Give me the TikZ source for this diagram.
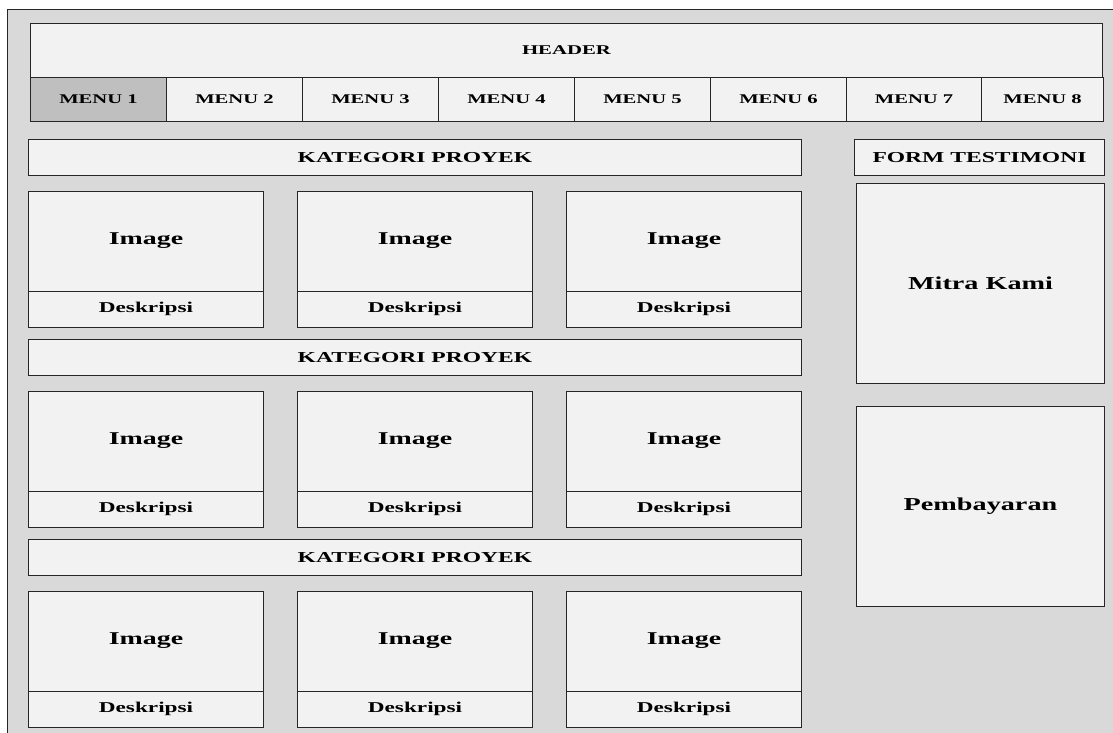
\documentclass[tikz,border=0pt]{standalone}
\usepackage{fontspec}
\setmainfont[FakeStretch=1.55]{Liberation Serif}
\definecolor{latar}{HTML}{D9D9D9}
\definecolor{isi}{HTML}{F2F2F2}
\definecolor{aktif}{HTML}{BFBFBF}

\tikzset{
  kotak/.style={draw=black!85, fill=isi, line width=1pt, inner sep=0pt, anchor=north west},
  menubox/.style={kotak, minimum height=44pt, font=\bfseries\fontsize{13.3}{15}\selectfont},
  judul/.style={kotak, minimum height=36pt, font=\bfseries\fontsize{15.2}{17}\selectfont},
  gambar/.style={kotak, minimum width=235pt, minimum height=100pt, font=\bfseries\fontsize{18}{20}\selectfont},
  deskbox/.style={kotak, minimum width=235pt, minimum height=36pt, font=\bfseries\fontsize{15}{17}\selectfont},
  panel/.style={kotak, minimum width=248pt, minimum height=200pt, font=\bfseries\fontsize{18.2}{20}\selectfont}
}

\begin{document}
\begin{tikzpicture}[x=1pt,y=-1pt]
  \useasboundingbox (0,0) rectangle (1113,733);
  \clip (0,0) rectangle (1113,733);
  % latar halaman
  \filldraw[fill=latar, draw=black!85, line width=1pt] (7,10) rectangle (1140,760);
  % header dan menu
  \node[kotak, minimum width=1072pt, minimum height=54pt, font=\bfseries\fontsize{13.4}{15}\selectfont] (header) at (30,23) {HEADER};
  \foreach \i/\x/\w/\warna in {1/30/136/aktif, 2/166/136/isi, 3/302/136/isi, 4/438/136/isi,
                               5/574/136/isi, 6/710/136/isi, 7/846/135/isi, 8/981/122/isi}
    \node[menubox, fill=\warna, minimum width=\w pt] (menu\i) at (\x,77) {MENU \i};
  % kategori proyek, tiga baris kartu
  \foreach \r/\y in {1/139, 2/339, 3/539} {
    \node[judul, minimum width=773pt] (kat\r) at (28,\y) {KATEGORI PROYEK};
    \foreach \c/\x in {1/28, 2/297, 3/566} {
      \node[gambar] (img\r\c) at (\x,\y+51.5) {Image};
      \node[deskbox] (desk\r\c) at (\x,\y+151.5) {Deskripsi};
    }
  }
  % kolom kanan
  \node[judul, minimum width=250pt] (form) at (854,139) {FORM TESTIMONI};
  \node[panel] (mitra) at (856,183) {Mitra Kami};
  \node[panel] (bayar) at (856,406) {Pembayaran};
\end{tikzpicture}
\end{document}
